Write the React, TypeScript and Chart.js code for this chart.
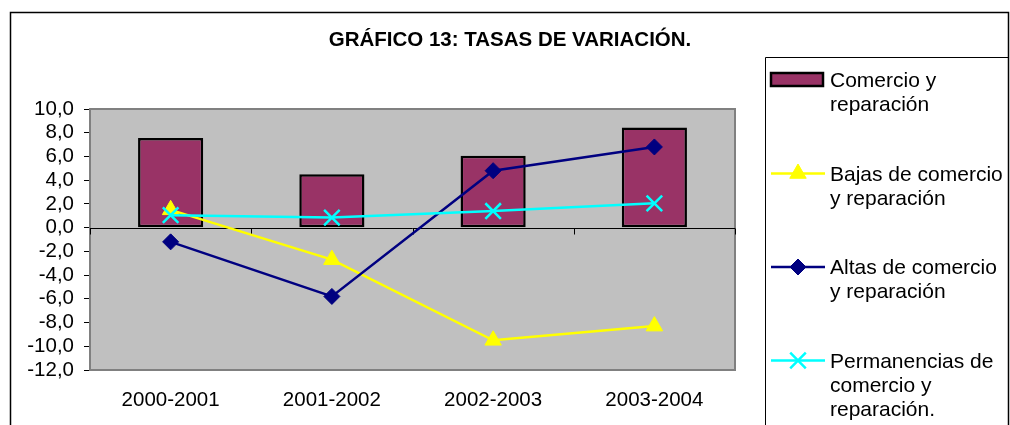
import { useEffect, useRef } from 'react';
import { Chart, registerables } from 'chart.js';
import { drawPoint } from 'chart.js/helpers';

Chart.register(...registerables);

const categories = ['2000-2001', '2001-2002', '2002-2003', '2003-2004'];
const comercio = [7.55, 4.5, 6.05, 8.45];
const bajas = [1.5, -2.7, -9.5, -8.3];
const altas = [-1.2, -5.8, 4.8, 6.8];
const permanencias = [1.05, 0.85, 1.4, 2.05];

const seriesLabels = [
  ['Comercio y', 'reparación'],
  ['Bajas de comercio', 'y reparación'],
  ['Altas de comercio', 'y reparación'],
  ['Permanencias de', 'comercio y', 'reparación.'],
];
const titleText = 'GRÁFICO 13: TASAS DE VARIACIÓN.';
const yMin = -12;
const yMax = 10;
const yStep = 2;

const FONT = "'Liberation Sans', Arial, sans-serif";

const framePlugin = {
  id: 'frame',
  beforeDraw(chart: any) {
    const { ctx, chartArea: a } = chart;
    ctx.save();
    ctx.fillStyle = '#ffffff';
    ctx.fillRect(0, 0, chart.width, chart.height);
    ctx.fillStyle = '#C0C0C0';
    ctx.fillRect(a.left, a.top, a.right - a.left, a.bottom - a.top);
    ctx.restore();
  },
  beforeDatasetsDraw(chart: any) {
    const { ctx, chartArea: a, scales } = chart;
    ctx.save();
    ctx.strokeStyle = '#808080';
    ctx.lineWidth = 2;
    ctx.strokeRect(a.left, a.top, a.right - a.left, a.bottom - a.top);
    const y0 = Math.round(scales.y.getPixelForValue(0)) + 0.5;
    ctx.strokeStyle = '#000';
    ctx.lineWidth = 1;
    ctx.beginPath();
    ctx.moveTo(a.left, y0);
    ctx.lineTo(a.right, y0);
    for (let i = 0; i <= categories.length; i++) {
      const x = Math.round(scales.x.getPixelForValue(i - 0.5)) + 0.5;
      ctx.moveTo(x, y0);
      ctx.lineTo(x, y0 + 6);
    }
    ctx.stroke();
    ctx.restore();
  },
  afterDraw(chart: any) {
    const { ctx } = chart;
    ctx.save();
    // outer frame
    ctx.strokeStyle = '#000';
    ctx.lineWidth = 1.5;
    ctx.beginPath();
    ctx.moveTo(10.5, 430);
    ctx.lineTo(10.5, 12.5);
    ctx.lineTo(1008.5, 12.5);
    ctx.lineTo(1008.5, 430);
    ctx.stroke();
    // title
    ctx.fillStyle = '#000';
    ctx.font = `bold 20.5px ${FONT}`;
    ctx.textAlign = 'center';
    ctx.textBaseline = 'alphabetic';
    ctx.fillText(titleText, 510, 46);
    // legend box
    ctx.lineWidth = 1;
    ctx.beginPath();
    ctx.moveTo(765.5, 430);
    ctx.lineTo(765.5, 57.5);
    ctx.lineTo(1008.5, 57.5);
    ctx.stroke();
    const baselines = [87, 180.5, 274, 367.5];
    const lineH = 24;
    const ds = chart.data.datasets;
    const order = [0, 1, 2, 3];
    order.forEach((di, k) => {
      const d = ds[di];
      const b = baselines[k];
      const cy = b - 7;
      if (d.type === 'bar') {
        ctx.fillStyle = d.backgroundColor;
        ctx.fillRect(771, 73, 52, 13);
        ctx.strokeStyle = d.borderColor;
        ctx.lineWidth = 2.5;
        ctx.strokeRect(771, 73, 52, 13);
      } else {
        ctx.strokeStyle = d.borderColor;
        ctx.lineWidth = d.borderWidth;
        ctx.beginPath();
        ctx.moveTo(771, cy);
        ctx.lineTo(825, cy);
        ctx.stroke();
        ctx.fillStyle = d.pointBackgroundColor;
        ctx.strokeStyle = d.pointBorderColor;
        ctx.lineWidth = d.pointBorderWidth;
        drawPoint(ctx, { pointStyle: d.pointStyle, radius: d.pointRadius, rotation: 0, borderWidth: d.pointBorderWidth }, 798, cy);
      }
      ctx.fillStyle = '#000';
      ctx.font = `21px ${FONT}`;
      ctx.textAlign = 'left';
      ctx.textBaseline = 'alphabetic';
      seriesLabels[di].forEach((line, j) => {
        ctx.fillText(line, 830, b + j * lineH);
      });
    });
    ctx.restore();
  },
};

export default function App() {
  const ref = useRef<HTMLCanvasElement | null>(null);
  useEffect(() => {
    if (!ref.current) return;
    const chart = new Chart(ref.current, {
      data: {
        labels: categories,
        datasets: [
          {
            type: 'bar',
            label: seriesLabels[0].join(' '),
            data: comercio,
            backgroundColor: '#993366',
            borderColor: '#000000',
            borderWidth: 2.5,
            borderSkipped: false,
            barPercentage: 0.404,
            categoryPercentage: 1,
            order: 4,
          },
          {
            type: 'line',
            label: seriesLabels[1].join(' '),
            data: bajas,
            borderColor: '#FFFF00',
            backgroundColor: '#FFFF00',
            borderWidth: 2.5,
            pointStyle: 'triangle',
            pointRadius: 9.5,
            pointBorderWidth: 1,
            pointBackgroundColor: '#FFFF00',
            pointBorderColor: '#FFFF00',
            order: 3,
          },
          {
            type: 'line',
            label: seriesLabels[2].join(' '),
            data: altas,
            borderColor: '#000080',
            backgroundColor: '#000080',
            borderWidth: 2.5,
            pointStyle: 'rectRot',
            pointRadius: 8,
            pointBorderWidth: 1,
            pointBackgroundColor: '#000080',
            pointBorderColor: '#000080',
            order: 2,
          },
          {
            type: 'line',
            label: seriesLabels[3].join(' '),
            data: permanencias,
            borderColor: '#00FFFF',
            backgroundColor: '#00FFFF',
            borderWidth: 2.5,
            pointStyle: 'crossRot',
            pointRadius: 11,
            pointBorderWidth: 2.5,
            pointBackgroundColor: '#00FFFF',
            pointBorderColor: '#00FFFF',
            order: 1,
          },
        ] as any,
      },
      options: {
        responsive: false,
        animation: false,
        devicePixelRatio: 1,
        layout: { padding: { top: 109, right: 275, bottom: 0, left: 0 } },
        plugins: {
          legend: { display: false },
          title: { display: false },
          tooltip: { enabled: false },
        },
        scales: {
          x: {
            offset: true,
            grid: { display: false, drawTicks: false },
            border: { display: false },
            ticks: { color: '#000', font: { family: FONT, size: 20.5 }, padding: 18, maxRotation: 0, autoSkip: false },
            afterFit(s: any) { s.height = 55; },
          },
          y: {
            min: yMin,
            max: yMax,
            ticks: {
              stepSize: yStep,
              autoSkip: false,
              color: '#000',
              font: { family: FONT, size: 20.5 },
              padding: 10,
              callback: (v: any) => Number(v).toFixed(1).replace('.', ','),
            },
            grid: { drawOnChartArea: false, tickLength: 6, color: '#000' },
            border: { color: '#404040', width: 1 },
            afterFit(s: any) { s.width = 90; },
          },
        },
      },
      plugins: [framePlugin],
    } as any);
    return () => chart.destroy();
  }, []);
  return (
    <div style={{ position: 'absolute', left: 0, top: 0, width: 1010, height: 425 }}>
      <canvas ref={ref} width={1010} height={425} style={{ width: 1010, height: 425, display: 'block' }} />
    </div>
  );
}
